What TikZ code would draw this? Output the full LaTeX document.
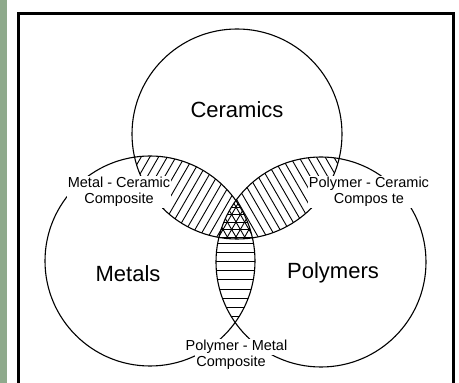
\documentclass[tikz,border=0pt]{standalone}
\usepackage{fontspec}
\setmainfont{Liberation Sans}
\definecolor{bandgreen}{HTML}{8FAA8C}
\begin{document}
\begin{tikzpicture}[x=1pt,y=1pt,
  circ/.style={draw=black,line width=1.1pt},
  hatch/.style={line width=0.9pt},
  lbl/.style={font=\fontsize{14.5}{16.5}\selectfont, fill=white, inner sep=1pt, align=center},
  big/.style={font=\fontsize{22}{26}\selectfont},
  frame/.style={line width=2.5pt}]
\useasboundingbox (0,0) rectangle (459,383);
\fill[bandgreen] (0,0) rectangle (6.5,383);
\def\R{105}
\coordinate (cC) at (237,249);
\coordinate (cM) at (150,122);
\coordinate (cP) at (321,121);
% Metal-Ceramic lens
\begin{scope}
  \clip (cM) circle (\R);
  \clip (cC) circle (\R);
  \foreach \i in {-14,...,14} \draw[hatch] ({190+\i*8.7},190) ++(240:150) -- ++(60:300);
\end{scope}
% Polymer-Ceramic lens
\begin{scope}
  \clip (cP) circle (\R);
  \clip (cC) circle (\R);
  \foreach \i in {-14,...,14} \draw[hatch] ({285+\i*8.7},190) ++(300:150) -- ++(120:300);
\end{scope}
% Polymer-Metal lens
\begin{scope}
  \clip (cM) circle (\R);
  \clip (cP) circle (\R);
  \foreach \i in {-2,...,12} \draw[hatch] (190,{140-\i*9.2}) -- (290,{140-\i*9.2});
\end{scope}
% triple region
\begin{scope}
  \clip (cM) circle (\R);
  \clip (cP) circle (\R);
  \clip (cC) circle (\R);
  \fill[white] (200,130) rectangle (280,200);
  \foreach \i in {-6,...,6} {
    \draw[hatch] (190,{146+\i*7.5}) -- (290,{146+\i*7.5});
    \draw[hatch] ({236+\i*8.66},146) ++(240:60) -- ++(60:120);
    \draw[hatch] ({236+\i*8.66},146) ++(300:60) -- ++(120:120);
  }
\end{scope}
% circles
\draw[circ] (cC) circle (\R);
\draw[circ] (cM) circle (\R);
\draw[circ] (cP) circle (\R);
% labels
\node[big] (cer) at (237,273) {Ceramics};
\node[big] (met) at (128,109) {Metals};
\node[big] (pol) at (333,110) {Polymers};
\node[lbl] (mc) at (119,191) {Metal - Ceramic\\Composite};
\node[lbl] (pc) at (369,191) {Polymer - Ceramic\\Compos te};
\node[lbl] (pm1) at (236.5,36) {Polymer - Metal};
\node[lbl] (pm2) at (231,20) {Composite};
% frame
\draw[frame] (18.5,-5) -- (18.5,369.5) -- (453.5,369.5) -- (453.5,-5);
\end{tikzpicture}
\end{document}
